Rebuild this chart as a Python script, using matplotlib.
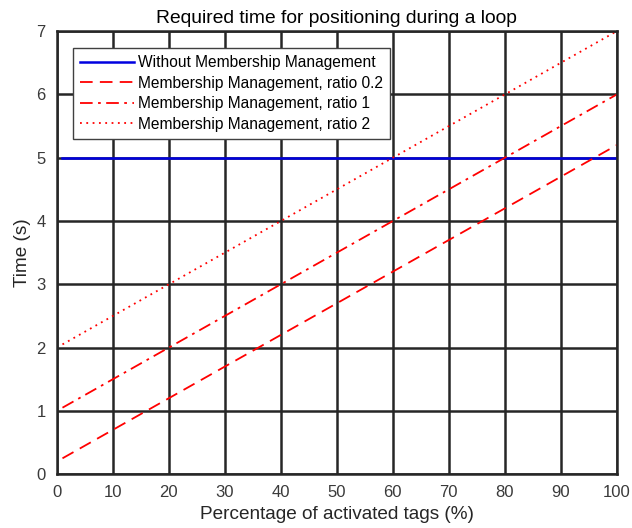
import matplotlib
matplotlib.use("Agg")
import matplotlib.pyplot as plt

plt.rcParams['font.family'] = ['Liberation Sans', 'DejaVu Sans']

# Data (straight lines, endpoints)
pct = [1, 100]
no_mm = [5, 5]
mm_02 = [0.25, 5.2]
mm_1 = [1.05, 6.0]
mm_2 = [2.05, 7.0]

labels = ["Without Membership Management",
          "Membership Management, ratio 0.2",
          "Membership Management, ratio 1",
          "Membership Management, ratio 2"]

fig = plt.figure(figsize=(6.32, 5.28), dpi=100)
ax = fig.add_axes([0.090, 0.102, 0.886, 0.839])

ax.plot(pct, no_mm, color='#0000e0', lw=1.8, label=labels[0])
ax.plot(pct, mm_02, color='red', lw=1.3, ls=(0, (7, 4)), label=labels[1])
ax.plot(pct, mm_1, color='red', lw=1.3, ls=(0, (7, 3, 1.5, 3)), label=labels[2])
ax.plot(pct, mm_2, color='red', lw=1.3, ls=(0, (1, 2.5)), label=labels[3])

ax.set_xlim(0, 100)
ax.set_ylim(0, 7)
ax.set_xticks(range(0, 101, 10))
ax.set_yticks(range(0, 8))
ax.grid(True, color='#262626', lw=1.8, alpha=1)
ax.set_axisbelow(True)
for s in ax.spines.values():
    s.set_color('#262626')
    s.set_linewidth(1.8)
ax.tick_params(direction='in', length=0, labelsize=12, colors='#3a3a3a', pad=8)

ax.set_xlabel("Percentage of activated tags (%)", fontsize=13.7, color='#262626')
ax.set_ylabel("Time (s)", fontsize=13.7, color='#262626')
ax.set_title("Required time for positioning during a loop", fontsize=13.9, color='black', pad=6)

leg = ax.legend(loc='upper left', bbox_to_anchor=(0.0286, 0.962), borderaxespad=0,
                fontsize=11.2, frameon=True, fancybox=False, handlelength=3.5,
                borderpad=0.45, labelspacing=0.36, handletextpad=0.25)
leg.get_frame().set_edgecolor('#404040')
leg.get_frame().set_linewidth(1.0)
leg.get_frame().set_alpha(1)

fig.savefig("out.png", dpi=100)
